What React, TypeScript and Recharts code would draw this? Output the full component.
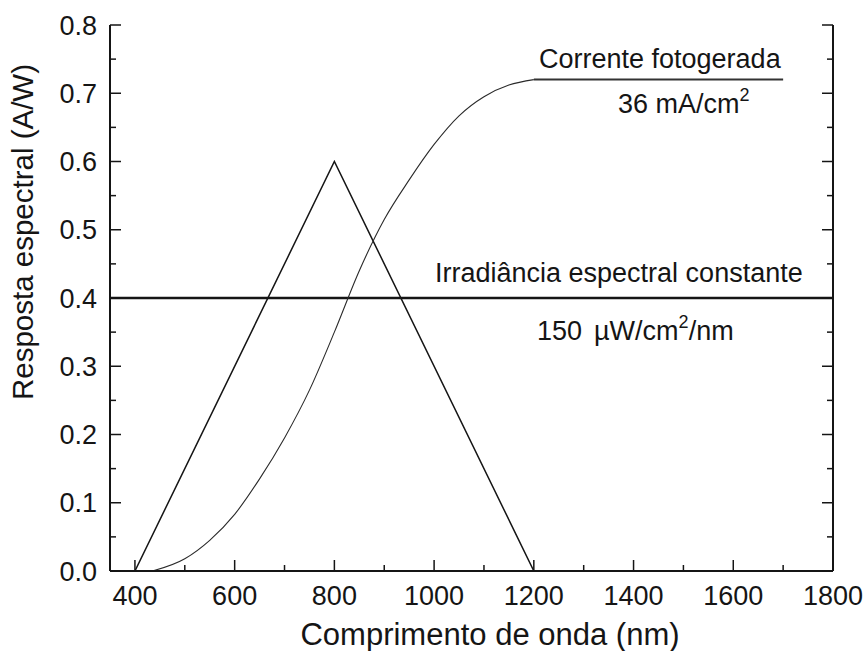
import React from 'react';
import { LineChart, Line, XAxis, YAxis, ReferenceLine } from 'recharts';

// wavelength (nm) ticks, every 100 with labels every 200
const xTicks = [400, 500, 600, 700, 800, 900, 1000, 1100, 1200, 1300, 1400, 1500, 1600, 1700, 1800];
const yTicks = [0, 0.05, 0.1, 0.15, 0.2, 0.25, 0.3, 0.35, 0.4, 0.45, 0.5, 0.55, 0.6, 0.65, 0.7, 0.75, 0.8];

// triangular spectral response
const triangleNm = [400, 800, 1200];
const triangleVal = [0, 0.6, 0];

// photogenerated current curve
const curveNm = [435, 500, 550, 600, 650, 700, 750, 800, 850, 900, 950, 1000, 1050, 1100, 1150, 1200];
const curveVal = [0, 0.018, 0.045, 0.083, 0.135, 0.195, 0.265, 0.35, 0.44, 0.515, 0.573, 0.625, 0.667, 0.695, 0.712, 0.72];

// plateau of the current curve
const plateauNm = [1200, 1700];
const plateauVal = [0.72, 0.72];

const irradianceLevel = 0.4;

const toPoints = (xs: number[], ys: number[]) => xs.map((x, i) => ({ x, y: ys[i] }));

const FONT = '"Liberation Sans", Arial, Helvetica, sans-serif';
const INK = '#151515';

const isMajorX = (v: number) => v % 200 === 0;
const isMajorY = (v: number) => Math.round(v * 100) % 10 === 0;

const BottomTick = (props: any) => {
  const { x, y, payload } = props;
  const v = payload.value;
  const major = isMajorX(v);
  return (
    <g>
      <line x1={x} x2={x} y1={y} y2={y - (major ? 11 : 6)} stroke={INK} strokeWidth={1.5} />
      {major && (
        <text x={x} y={y + 34} textAnchor="middle" fontSize={27} fontFamily={FONT} fill={INK}>
          {v}
        </text>
      )}
    </g>
  );
};

const TopTick = (props: any) => {
  const { x, y, payload } = props;
  const major = isMajorX(payload.value);
  return <line x1={x} x2={x} y1={y} y2={y + (major ? 11 : 6)} stroke={INK} strokeWidth={1.5} />;
};

const LeftTick = (props: any) => {
  const { x, y, payload } = props;
  const v = payload.value;
  const major = isMajorY(v);
  return (
    <g>
      <line x1={x} x2={x + (major ? 11 : 6)} y1={y} y2={y} stroke={INK} strokeWidth={1.5} />
      {major && (
        <text x={x - 13} y={y + 9.5} textAnchor="end" fontSize={27} fontFamily={FONT} fill={INK}>
          {v.toFixed(1)}
        </text>
      )}
    </g>
  );
};

const RightTick = (props: any) => {
  const { x, y, payload } = props;
  const major = isMajorY(payload.value);
  return <line x1={x} x2={x - (major ? 11 : 6)} y1={y} y2={y} stroke={INK} strokeWidth={1.5} />;
};

const axisLine = { stroke: INK, strokeWidth: 2 };

export default function App() {
  return (
    <div style={{ position: 'absolute', left: 0, top: 0, width: 866, height: 651, background: '#fff' }}>
      <LineChart width={866} height={651} margin={{ top: 25, right: 0, bottom: 0, left: 0 }}>
        <XAxis
          type="number"
          dataKey="x"
          domain={[350, 1800]}
          ticks={xTicks}
          allowDataOverflow
          height={80}
          axisLine={axisLine}
          tickLine={false}
          tickSize={0}
          tickMargin={0}
          tick={<BottomTick />}
          interval={0}
        />
        <XAxis
          xAxisId="top"
          orientation="top"
          type="number"
          domain={[350, 1800]}
          ticks={xTicks}
          allowDataOverflow
          height={0}
          axisLine={axisLine}
          tickLine={false}
          tickSize={0}
          tickMargin={0}
          tick={<TopTick />}
          interval={0}
        />
        <YAxis
          type="number"
          dataKey="y"
          domain={[0, 0.8]}
          ticks={yTicks}
          allowDataOverflow
          width={110}
          axisLine={axisLine}
          tickLine={false}
          tickSize={0}
          tickMargin={0}
          tick={<LeftTick />}
          interval={0}
        />
        <YAxis
          yAxisId="right"
          orientation="right"
          type="number"
          domain={[0, 0.8]}
          ticks={yTicks}
          allowDataOverflow
          width={33}
          axisLine={axisLine}
          tickLine={false}
          tickSize={0}
          tickMargin={0}
          tick={<RightTick />}
          interval={0}
        />
        <ReferenceLine y={irradianceLevel} stroke={INK} strokeWidth={2.5} ifOverflow="hidden" />
        <Line
          data={toPoints(triangleNm, triangleVal)}
          dataKey="y"
          type="linear"
          stroke={INK}
          strokeWidth={1.5}
          dot={false}
          isAnimationActive={false}
        />
        <Line
          data={toPoints(curveNm, curveVal)}
          dataKey="y"
          type="monotone"
          stroke="#2a2a2a"
          strokeWidth={1.1}
          dot={false}
          isAnimationActive={false}
        />
        <Line
          data={toPoints(plateauNm, plateauVal)}
          dataKey="y"
          type="linear"
          stroke="#333"
          strokeWidth={2}
          dot={false}
          isAnimationActive={false}
        />
        <text x={539} y={68} fontSize={27} fontFamily={FONT} fill={INK}>
          Corrente fotogerada
        </text>
        <text x={618} y={113} fontSize={27} fontFamily={FONT} fill={INK}>
          36 mA/cm
          <tspan fontSize={18} dy={-12}>2</tspan>
        </text>
        <text x={435} y={282} fontSize={27} fontFamily={FONT} fill={INK}>
          Irradiância espectral constante
        </text>
        <text x={537} y={340} fontSize={27} fontFamily={FONT} fill={INK}>
          150
          <tspan dx={12}>µW/cm</tspan>
          <tspan fontSize={18} dy={-12}>2</tspan>
          <tspan dy={12}>/nm</tspan>
        </text>
        <text x={490} y={645} textAnchor="middle" fontSize={31} fontFamily={FONT} fill={INK}>
          Comprimento de onda (nm)
        </text>
        <text
          x={33}
          y={232}
          textAnchor="middle"
          fontSize={29.5}
          fontFamily={FONT}
          fill={INK}
          transform="rotate(-90, 33, 232)"
        >
          Resposta espectral (A/W)
        </text>
      </LineChart>
    </div>
  );
}
